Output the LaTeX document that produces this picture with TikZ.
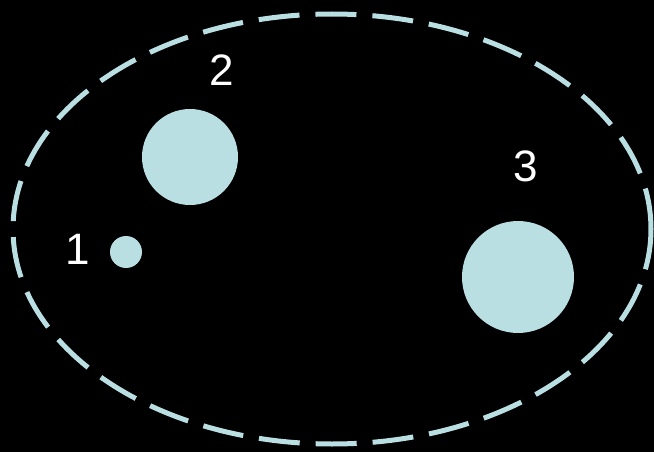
\documentclass[tikz,border=0pt]{standalone}
\usepackage{fontspec}
\setmainfont{Liberation Sans}
\usetikzlibrary{shapes.geometric, positioning}
\definecolor{paleblue}{RGB}{186,223,227}
\tikzset{
  body/.style={circle, fill=paleblue, inner sep=0pt},
  num/.style={text=white, font=\fontsize{44}{44}\selectfont, inner sep=0pt}
}

\begin{document}
\begin{tikzpicture}[x=1pt, y=-1pt]
\fill[black] (0,0) rectangle (654,452);
\useasboundingbox (0,0) rectangle (654,452);
\node[ellipse, draw=paleblue, line width=5pt, dash pattern=on 41pt off 16pt,
  minimum width=638pt, minimum height=430pt, inner sep=0pt] (rim) at (332,229) {};
\node[body, minimum size=32pt] (b1) at (126,252) {};
\node[body, minimum size=96pt] (b2) at (190,157) {};
\node[body, minimum size=112pt] (b3) at (518,277) {};
\node[num] (n1) at (78,249) {1};
\node[num] (n2) at (222,70) {2};
\node[num] (n3) at (526,166) {3};
\end{tikzpicture}
\end{document}
